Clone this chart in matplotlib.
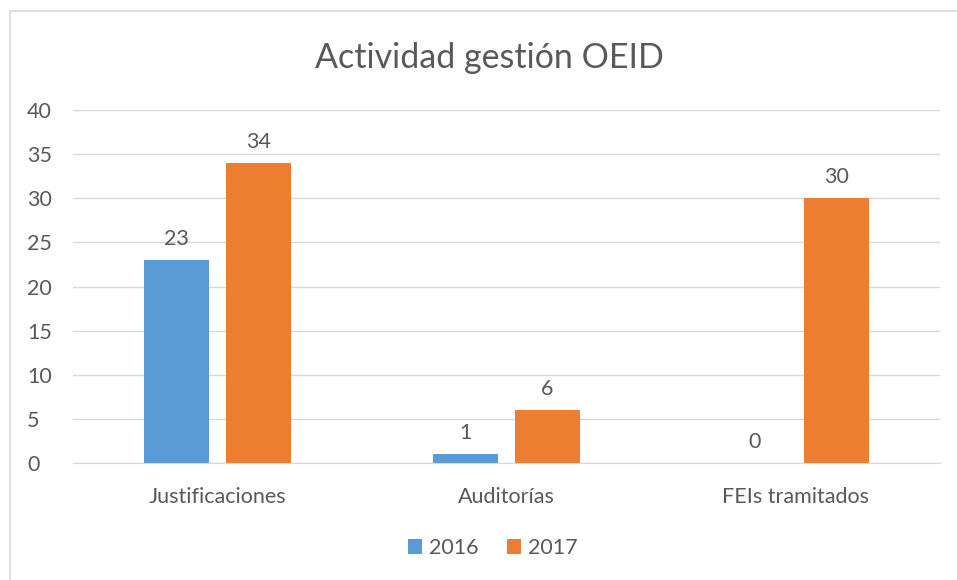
import matplotlib.pyplot as plt
from matplotlib.patches import Rectangle
import numpy as np

categories = ["Justificaciones", "Auditorías", "FEIs tramitados"]
v2016 = [23, 1, 0]
v2017 = [34, 6, 30]
series = ["2016", "2017"]

plt.rcParams['font.family'] = ['Lato', 'DejaVu Sans']
txt = '#595959'
blue = '#5B9BD5'
orange = '#ED7D31'

fig = plt.figure(figsize=(9.57, 5.8), dpi=100)
fig.patches.append(Rectangle((10/957, -0.1), 1.2, 1 - 11/580 + 0.1, transform=fig.transFigure,
                             fill=False, edgecolor='#D9D9D9', linewidth=1.2))
ax = fig.add_axes([0.0763, 0.2017, 0.9057, 0.6086])

x = np.arange(len(categories))
w = 0.225
off = 0.142
b1 = ax.bar(x - off, v2016, w, color=blue, label=series[0])
b2 = ax.bar(x + off, v2017, w, color=orange, label=series[1])
for bars in (b1, b2):
    for r in bars:
        ax.annotate(str(int(r.get_height())), (r.get_x() + r.get_width() / 2, r.get_height()),
                    xytext=(0, 8), textcoords='offset points', ha='center', va='bottom',
                    fontsize=15.5, color=txt)

ax.set_xlim(-0.5, 2.5)
ax.set_ylim(0, 40)
ax.set_yticks(range(0, 41, 5))
ax.yaxis.grid(True, color='#D9D9D9', linewidth=1)
ax.set_axisbelow(True)
for s in ['top', 'right', 'left']:
    ax.spines[s].set_visible(False)
ax.spines['bottom'].set_color('#D9D9D9')
ax.set_xticks(x)
ax.set_xticklabels(categories)
ax.tick_params(axis='both', length=0, labelsize=15.5, labelcolor=txt)
ax.tick_params(axis='x', pad=17)
ax.tick_params(axis='y', pad=33)
for lab in ax.get_yticklabels():
    lab.set_horizontalalignment('left')

fig.text(0.511, 0.9, "Actividad gestión OEID", ha='center', va='center', fontsize=24.5, color=txt)
fig.legend(loc='center', bbox_to_anchor=(0.515, 0.055), ncol=2, frameon=False, fontsize=15.5,
           labelcolor=txt, handlelength=0.65, handleheight=0.65, handletextpad=0.35, columnspacing=1.3)

fig.savefig("out.png", dpi=100)
